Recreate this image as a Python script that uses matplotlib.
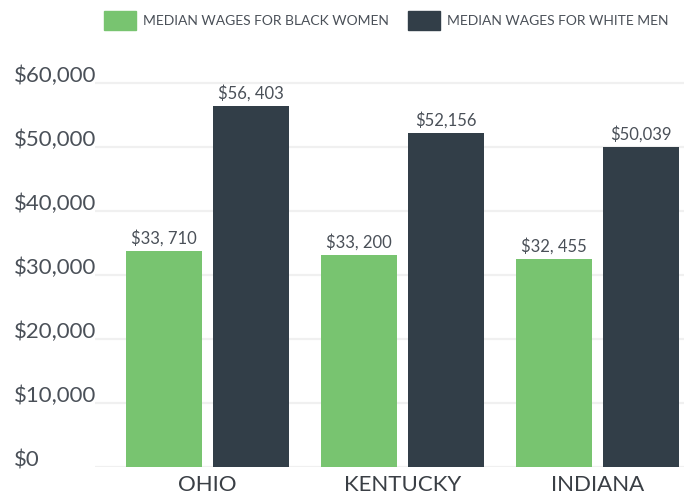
import matplotlib
matplotlib.use("Agg")
import matplotlib.pyplot as plt
import matplotlib.transforms as mtransforms
from matplotlib.patches import Patch
import numpy as np

# ---- data ----
states = ["OHIO", "KENTUCKY", "INDIANA"]
black_women = [33710, 33200, 32455]
white_men = [56403, 52156, 50039]
black_women_labels = ["$33, 710", "$33, 200", "$32, 455"]
white_men_labels = ["$56, 403", "$52,156", "$50,039"]
yticks = [0, 10000, 20000, 30000, 40000, 50000, 60000]
ytick_labels = ["$0", "$10,000", "$20,000", "$30,000", "$40,000", "$50,000", "$60,000"]

GREEN = "#78c470"
DARK = "#323e48"
TXT = "#4a5058"

plt.rcParams["font.family"] = ["Lato", "DejaVu Sans"]

fig = plt.figure(figsize=(6.84, 5.0), dpi=100)
ax = fig.add_axes([95 / 684, 33 / 500, 589 / 684, 390.4 / 500])

x = np.arange(len(states))
w = 0.39
off = 0.223
ax.bar(x - off, black_women, w, color=GREEN, zorder=3)
ax.bar(x + off, white_men, w, color=DARK, zorder=3)

for i in range(len(states)):
    ax.annotate(black_women_labels[i], (x[i] - off, black_women[i]), xytext=(0, 3),
                textcoords="offset points", ha="center", va="bottom", fontsize=12, color=TXT)
    ax.annotate(white_men_labels[i], (x[i] + off, white_men[i]), xytext=(0, 3),
                textcoords="offset points", ha="center", va="bottom", fontsize=12, color=TXT)

ax.set_xlim(-0.577, 2.444)
ax.set_ylim(0, 61000)

# gridlines
for t in yticks:
    ax.axhline(t, color="#f0f0f0", lw=1.6, zorder=1)

# y labels sitting on the gridlines, left of axes
trans = mtransforms.blended_transform_factory(fig.transFigure, ax.transData)
for t, lab in zip(yticks, ytick_labels):
    ax.text(14 / 684, t + 150, lab, transform=trans, ha="left", va="baseline",
            fontsize=16, color=TXT)

ax.set_yticks([])
ax.set_xticks(x)
ax.set_xticklabels(states, fontsize=16, color="#3a3f45")
ax.tick_params(axis="x", length=0, pad=6)
for s in ax.spines.values():
    s.set_visible(False)

handles = [Patch(color=GREEN, label="MEDIAN WAGES FOR BLACK WOMEN"),
           Patch(color=DARK, label="MEDIAN WAGES FOR WHITE MEN")]
fig.legend(handles=handles, loc="center", bbox_to_anchor=(0.565, 0.959), ncol=2,
           frameon=False, fontsize=10, handlelength=2.3, handleheight=1.8,
           handletextpad=0.5, columnspacing=1.4, labelcolor=TXT)

fig.savefig("out.png", dpi=100)
